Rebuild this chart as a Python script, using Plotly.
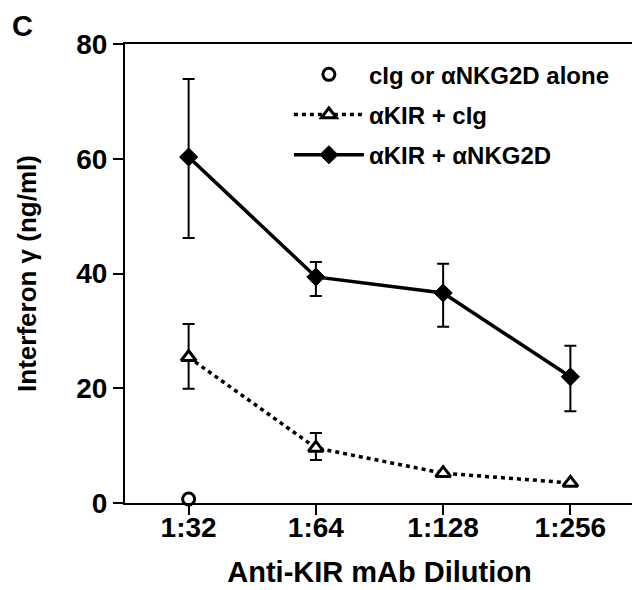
import plotly.graph_objects as go

# anti-KIR mAb dilutions on the x axis
dilutions = ["1:32", "1:64", "1:128", "1:256"]

# aKIR + aNKG2D (filled diamonds, solid line)
kir_nkg2d = [60.3, 39.4, 36.6, 22.0]
kir_nkg2d_hi = [73.9, 42.0, 41.7, 27.4]
kir_nkg2d_lo = [46.2, 36.1, 30.7, 16.0]

# aKIR + cIg (open triangles, dotted line)
kir_cig = [25.4, 9.6, 5.2, 3.5]
kir_cig_hi = [31.2, 12.2, 5.2, 3.5]
kir_cig_lo = [19.9, 7.5, 5.2, 3.5]

# cIg or aNKG2D alone (open circle, only at 1:32)
alone_x = ["1:32"]
alone = [0.7]

y_ticks = [0, 20, 40, 60, 80]

FONT = "Liberation Sans, Arial, Helvetica, sans-serif"


def plus(v, hi):
    return [h - x for x, h in zip(v, hi)]


def minus(v, lo):
    return [x - l for x, l in zip(v, lo)]


fig = go.Figure()

fig.add_trace(go.Scatter(
    x=alone_x, y=alone, mode="markers", name="cIg or \u03b1NKG2D alone",
    legendgroup="a",
    marker=dict(symbol="circle", size=12, color="white",
                line=dict(color="black", width=3)),
    cliponaxis=False,
))

fig.add_trace(go.Scatter(
    x=dilutions, y=kir_cig, mode="lines+markers", name="\u03b1KIR + cIg",
    legendgroup="b",
    line=dict(color="black", width=3.5, dash="4px,4px"),
    marker=dict(symbol="triangle-up", size=13, color="white",
                line=dict(color="black", width=3)),
    error_y=dict(type="data", symmetric=False,
                 array=plus(kir_cig, kir_cig_hi),
                 arrayminus=minus(kir_cig, kir_cig_lo),
                 color="black", thickness=2, width=6),
    cliponaxis=False,
))

fig.add_trace(go.Scatter(
    x=dilutions, y=kir_nkg2d, mode="lines+markers", name="\u03b1KIR + \u03b1NKG2D",
    legendgroup="c",
    line=dict(color="black", width=3.5),
    marker=dict(symbol="diamond", size=14, color="black",
                line=dict(color="black", width=1)),
    error_y=dict(type="data", symmetric=False,
                 array=plus(kir_nkg2d, kir_nkg2d_hi),
                 arrayminus=minus(kir_nkg2d, kir_nkg2d_lo),
                 color="black", thickness=2, width=6),
))

# the page has an 8px body margin, so the figure is a bit smaller than the window
fig.update_layout(
    width=632, height=582,
    margin=dict(l=117, r=6, t=36, b=87),
    paper_bgcolor="white", plot_bgcolor="white",
    font=dict(family=FONT, color="black"),
    showlegend=True,
    legend=dict(
        x=0.322, y=0.982, xanchor="left", yanchor="top",
        bgcolor="rgba(0,0,0,0)", borderwidth=0,
        font=dict(family=FONT, size=24, color="black", weight="bold"),
        itemwidth=70, traceorder="grouped", tracegroupgap=6,
    ),
    annotations=[dict(
        text="<b>C</b>", x=-0.202, y=1.04, xref="paper", yref="paper",
        xanchor="center", yanchor="middle", showarrow=False,
        font=dict(family=FONT, size=29, color="black"),
    )],
)

fig.update_xaxes(
    type="category", categoryorder="array", categoryarray=dilutions,
    range=[-0.5, 3.5], automargin=False,
    showline=True, linecolor="black", linewidth=2, mirror=True,
    ticks="outside", ticklen=10, tickwidth=2, tickcolor="black",
    ticklabelstandoff=-12,
    showgrid=False, zeroline=False,
    tickfont=dict(family=FONT, size=28, color="black", weight="bold"),
    title=dict(text="<b>Anti-KIR mAb Dilution</b>", standoff=20,
               font=dict(family=FONT, size=29, color="black")),
)

fig.update_yaxes(
    range=[0, 80], tickvals=y_ticks, automargin=False,
    showline=True, linecolor="black", linewidth=2, mirror=True,
    ticks="outside", ticklen=10, tickwidth=2, tickcolor="black",
    showgrid=False, zeroline=False,
    tickfont=dict(family=FONT, size=28, color="black", weight="bold"),
    title=dict(text="<b>Interferon \u03b3 (ng/ml)</b>", standoff=32,
               font=dict(family=FONT, size=26, color="black")),
)

fig.write_html("out.html")
